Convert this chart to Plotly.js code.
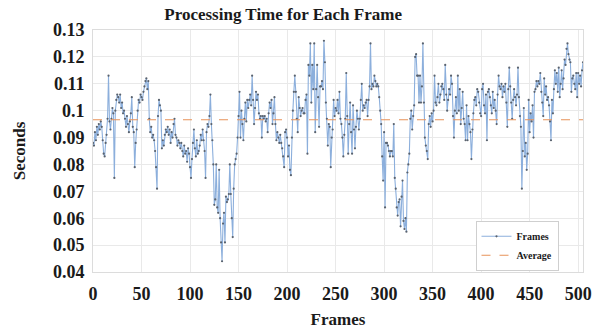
<!DOCTYPE html>
<html>
<head>
<meta charset="utf-8">
<script src="https://cdn.plot.ly/plotly-3.0.1.min.js"></script>
<style>html,body{margin:0;padding:0;background:#fff;}#chart{width:606px;height:334px;}</style>
</head>
<body>
<div id="chart"></div>
<script>
// Processing time (seconds) per frame
const timesFrames0to99 = [
  0.088, 0.087, 0.092, 0.089, 0.094, 0.091, 0.095, 0.093, 0.096, 0.094,
  0.089, 0.084, 0.083, 0.088, 0.091, 0.097, 0.113, 0.096, 0.093, 0.097,
  0.101, 0.099, 0.075, 0.100, 0.104, 0.106, 0.105, 0.103, 0.106, 0.101,
  0.103, 0.099, 0.100, 0.097, 0.094, 0.098, 0.095, 0.092, 0.096, 0.099,
  0.105, 0.094, 0.092, 0.079, 0.088, 0.093, 0.100, 0.104, 0.103, 0.106,
  0.105, 0.104, 0.107, 0.109, 0.111, 0.112, 0.108, 0.111, 0.097, 0.092,
  0.094, 0.090, 0.091, 0.089, 0.085, 0.079, 0.071, 0.098, 0.104, 0.102,
  0.100, 0.086, 0.089, 0.087, 0.091, 0.093, 0.092, 0.094, 0.091, 0.093,
  0.088, 0.092, 0.090, 0.095, 0.097, 0.091, 0.090, 0.087, 0.089, 0.088,
  0.086, 0.088, 0.085, 0.083, 0.087, 0.084, 0.085, 0.081, 0.086, 0.084
];
const timesFrames100to199 = [
  0.079, 0.075, 0.082, 0.088, 0.093, 0.086, 0.083, 0.089, 0.084, 0.085,
  0.087, 0.091, 0.089, 0.093, 0.089, 0.085, 0.075, 0.092, 0.095, 0.094,
  0.098, 0.106, 0.095, 0.089, 0.080, 0.065, 0.067, 0.080, 0.064, 0.062,
  0.078, 0.060, 0.051, 0.044, 0.058, 0.062, 0.051, 0.068, 0.066, 0.067,
  0.069, 0.080, 0.069, 0.060, 0.053, 0.071, 0.080, 0.082, 0.084, 0.090,
  0.098, 0.107, 0.090, 0.100, 0.095, 0.089, 0.097, 0.103, 0.096, 0.104,
  0.101, 0.104, 0.106, 0.102, 0.113, 0.104, 0.095, 0.101, 0.107, 0.104,
  0.106, 0.099, 0.097, 0.098, 0.090, 0.098, 0.097, 0.098, 0.096, 0.097,
  0.092, 0.099, 0.103, 0.101, 0.104, 0.095, 0.099, 0.105, 0.095, 0.089,
  0.092, 0.090, 0.088, 0.091, 0.088, 0.086, 0.083, 0.079, 0.092, 0.093
];
const timesFrames200to299 = [
  0.090, 0.083, 0.087, 0.078, 0.076, 0.090, 0.100, 0.107, 0.113, 0.107,
  0.097, 0.092, 0.105, 0.101, 0.098, 0.100, 0.101, 0.099, 0.099, 0.104,
  0.106, 0.084, 0.117, 0.113, 0.125, 0.103, 0.117, 0.108, 0.125, 0.092,
  0.108, 0.117, 0.105, 0.094, 0.109, 0.109, 0.111, 0.108, 0.126, 0.118,
  0.103, 0.097, 0.087, 0.095, 0.094, 0.079, 0.090, 0.093, 0.104, 0.098,
  0.101, 0.100, 0.104, 0.099, 0.107, 0.097, 0.095, 0.090, 0.083, 0.091,
  0.097, 0.114, 0.098, 0.084, 0.095, 0.103, 0.092, 0.084, 0.102, 0.093,
  0.086, 0.094, 0.100, 0.097, 0.093, 0.097, 0.104, 0.110, 0.100, 0.102,
  0.101, 0.103, 0.104, 0.098, 0.104, 0.109, 0.125, 0.108, 0.110, 0.109,
  0.113, 0.111, 0.109, 0.110, 0.109, 0.105, 0.100, 0.095, 0.083, 0.074
];
const timesFrames300to399 = [
  0.092, 0.064, 0.088, 0.088, 0.087, 0.085, 0.083, 0.085, 0.085, 0.083,
  0.095, 0.075, 0.071, 0.064, 0.061, 0.066, 0.067, 0.057, 0.068, 0.074,
  0.059, 0.056, 0.060, 0.055, 0.077, 0.080, 0.084, 0.097, 0.100, 0.093,
  0.098, 0.102, 0.120, 0.121, 0.113, 0.113, 0.103, 0.113, 0.103, 0.109,
  0.125, 0.103, 0.090, 0.087, 0.085, 0.082, 0.095, 0.098, 0.094, 0.099,
  0.096, 0.100, 0.113, 0.103, 0.102, 0.105, 0.110, 0.103, 0.106, 0.109,
  0.110, 0.108, 0.104, 0.117, 0.106, 0.100, 0.104, 0.108, 0.106, 0.113,
  0.110, 0.098, 0.090, 0.100, 0.105, 0.099, 0.113, 0.100, 0.108, 0.095,
  0.101, 0.107, 0.097, 0.095, 0.089, 0.102, 0.089, 0.098, 0.095, 0.092,
  0.082, 0.093, 0.099, 0.104, 0.105, 0.102, 0.108, 0.107, 0.103, 0.099
];
const timesFrames400to505 = [
  0.098, 0.108, 0.110, 0.102, 0.099, 0.106, 0.089, 0.107, 0.108, 0.105,
  0.102, 0.099, 0.107, 0.101, 0.104, 0.100, 0.095, 0.106, 0.113, 0.109,
  0.108, 0.110, 0.105, 0.109, 0.107, 0.110, 0.103, 0.094, 0.108, 0.116,
  0.109, 0.103, 0.097, 0.104, 0.108, 0.105, 0.102, 0.106, 0.116, 0.105,
  0.098, 0.094, 0.071, 0.085, 0.101, 0.083, 0.088, 0.078, 0.084, 0.104,
  0.092, 0.099, 0.096, 0.102, 0.090, 0.107, 0.108, 0.111, 0.109, 0.111,
  0.110, 0.114, 0.107, 0.103, 0.098, 0.112, 0.106, 0.109, 0.104, 0.105,
  0.102, 0.096, 0.089, 0.104, 0.099, 0.108, 0.115, 0.110, 0.114, 0.107,
  0.116, 0.105, 0.110, 0.115, 0.108, 0.112, 0.119, 0.117, 0.123, 0.125,
  0.121, 0.119, 0.118, 0.107, 0.112, 0.113, 0.110, 0.108, 0.114, 0.105,
  0.114, 0.110, 0.113, 0.109, 0.115, 0.118
];
const averageTime = 0.0966;
const xTickValues = [0, 50, 100, 150, 200, 250, 300, 350, 400, 450, 500];
const yTickValues = [0.04, 0.05, 0.06, 0.07, 0.08, 0.09, 0.1, 0.11, 0.12, 0.13];
const seriesNames = ["Frames", "Average"];

const frameTimes = [].concat(timesFrames0to99, timesFrames100to199, timesFrames200to299,
                             timesFrames300to399, timesFrames400to505);
const frameIndex = frameTimes.map((_, i) => i);
const lastFrame = frameIndex[frameIndex.length - 1];

const FONT = "'Liberation Serif', 'Times New Roman', serif";

const traces = [
  {
    x: frameIndex, y: frameTimes, name: seriesNames[0],
    type: "scatter", mode: "lines+markers",
    line: {color: "#8cafdc", width: 1.1},
    marker: {color: "#59626e", size: 2.2}
  },
  {
    x: [frameIndex[0], lastFrame], y: [averageTime, averageTime], name: seriesNames[1],
    type: "scatter", mode: "lines",
    line: {color: "#e8925a", width: 1.1, dash: "dash"}
  }
];

const layout = {
  width: 606, height: 334,
  margin: {l: 93, r: 23, t: 30, b: 62, pad: 0},
  paper_bgcolor: "#ffffff", plot_bgcolor: "#ffffff",
  font: {family: FONT, color: "#1a1a1a"},
  showlegend: true,
  title: {
    text: "Processing Time for Each Frame",
    font: {family: FONT, size: 17, weight: "bold", color: "#1a1a1a"},
    xref: "paper", x: 0.388, xanchor: "center",
    yref: "container", y: 0.958, yanchor: "middle"
  },
  xaxis: {
    range: [0, lastFrame], tickvals: xTickValues,
    showgrid: true, gridcolor: "#e9e9e9", gridwidth: 1,
    zeroline: false, showline: true, linecolor: "#dcdcdc", linewidth: 1, mirror: true,
    ticks: "", ticklabelstandoff: 5,
    tickfont: {family: FONT, size: 18, weight: "bold", color: "#1a1a1a"},
    title: {text: "Frames", font: {family: FONT, size: 17, weight: "bold", color: "#1a1a1a"}, standoff: 10}
  },
  yaxis: {
    range: [0.04, 0.13], tickvals: yTickValues,
    showgrid: true, gridcolor: "#e9e9e9", gridwidth: 1,
    zeroline: false, showline: true, linecolor: "#dcdcdc", linewidth: 1, mirror: true,
    ticks: "", ticklabelstandoff: 4,
    tickfont: {family: FONT, size: 18, weight: "bold", color: "#1a1a1a"},
    title: {text: "Seconds", font: {family: FONT, size: 17, weight: "bold", color: "#1a1a1a"}, standoff: 22}
  },
  legend: {
    x: 0.95, y: 0.005, xanchor: "right", yanchor: "bottom",
    bgcolor: "#ffffff", bordercolor: "#cfcfcf", borderwidth: 1,
    font: {family: FONT, size: 10, weight: "bold", color: "#1a1a1a"},
    itemwidth: 30, tracegroupgap: 0
  }
};

Plotly.newPlot("chart", traces, layout, {displayModeBar: false, staticPlot: true});
</script>
</body>
</html>
